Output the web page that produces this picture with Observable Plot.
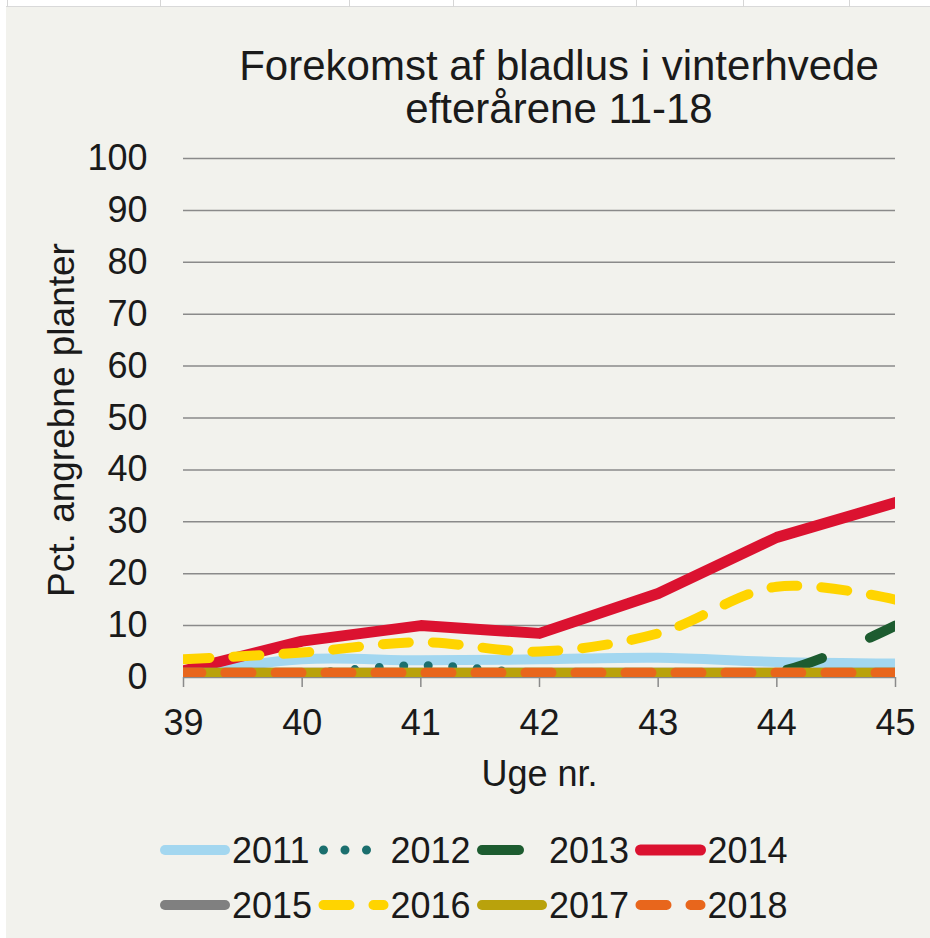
<!DOCTYPE html>
<html><head><meta charset="utf-8">
<script src="https://cdn.jsdelivr.net/npm/d3@7"></script>
<script src="https://cdn.jsdelivr.net/npm/@observablehq/plot@0.6"></script>
<style>
body{margin:0;background:#fff;}
#wrap{position:relative;width:930px;height:938px;overflow:hidden;background:#fff;font-family:"Liberation Sans",Arial,sans-serif;color:#1a1a1a;}
#panel{position:absolute;left:6px;top:7px;right:0;bottom:0;background:#f2f2ed;}
.vl{position:absolute;top:0;height:7px;width:1px;background:#d6d6d6;}
#topline{position:absolute;left:6px;right:0;top:6px;height:1px;background:#d9d9d9;}
#title{position:absolute;left:559px;top:44px;transform:translateX(-50%);text-align:center;white-space:nowrap;font-size:42px;line-height:43px;color:#1a1a1a;}
#chart{position:absolute;left:0;top:140px;}
#legend{position:absolute;left:0;top:810px;}
</style></head><body>
<div id="wrap">
  <div id="panel"></div>
  <div id="topline"></div>
  <div id="title">Forekomst af bladlus i vinterhvede<br>efterårene 11-18</div>
  <div id="chart"></div>
  <div id="legend"></div>
</div>
<script>
// ---- data ----
const weeks = [39, 40, 41, 42, 43, 44, 45];
const years = ["2011", "2012", "2013", "2014", "2015", "2016", "2017", "2018"];
const v2011 = [0.5, 3.5, 3.3, 3.5, 3.8, 3.0, 2.7];
const v2012 = [0.8, 0.8, 2.3, 0.8, 0.8, 0.8, 0.8];
const v2013 = [0.8, 0.8, 0.8, 0.8, 0.8, 1.0, 10.0];
const v2014 = [1.3, 7.0, 10.0, 8.5, 16.2, 27.0, 33.7];
const v2015 = [0.9, 0.9, 0.9, 0.9, 0.9, 0.9, 0.9];
const v2016 = [3.5, 4.8, 6.8, 5.0, 8.5, 17.5, 15.0];
const v2017 = [0.9, 0.9, 0.9, 0.9, 0.9, 0.9, 0.9];
const v2018 = [0.9, 0.9, 0.9, 0.9, 0.9, 0.9, 0.9];
const yTicks = [0, 10, 20, 30, 40, 50, 60, 70, 80, 90, 100];
const yLabel = "Pct. angrebne planter";
const xLabel = "Uge nr.";

// ---- styles ----
const styles = {
  "2011": {color: "#a3d7f0", w: 10, dash: null, off: 0, curve: "catmull-rom"},
  "2012": {color: "#1b6f6e", w: 9, dash: "0,24.5", off: 0, ldash: "0,21.5", curve: "catmull-rom"},
  "2013": {color: "#1d5c30", w: 10, dash: "37,52", off: 19, loff: 0, curve: "catmull-rom"},
  "2014": {color: "#db1230", w: 11, dash: null, off: 0, curve: "linear"},
  "2015": {color: "#808080", w: 10, dash: null, off: 0, curve: "catmull-rom"},
  "2016": {color: "#ffd400", w: 10, dash: "26,24", off: 0, curve: "catmull-rom"},
  "2017": {color: "#b9a20c", w: 10, dash: null, off: 0, curve: "catmull-rom"},
  "2018": {color: "#e8661c", w: 10, dash: "26,24", off: 8, loff: 0, curve: "catmull-rom"}
};
const valuesByYear = {"2011": v2011, "2012": v2012, "2013": v2013, "2014": v2014,
  "2015": v2015, "2016": v2016, "2017": v2017, "2018": v2018};

const rows = years.flatMap(y => weeks.map((w, i) => ({year: y, week: w, value: valuesByYear[y][i]})));

const plot = Plot.plot({
  width: 930,
  height: 660,
  marginLeft: 183,
  marginRight: 35,
  marginTop: 18,
  marginBottom: 123,
  x: {domain: [39, 45]},
  y: {domain: [0, 100]},
  style: {background: "transparent", fontFamily: "'Liberation Sans', Arial, sans-serif", fontSize: "36px", color: "#1a1a1a", overflow: "visible"},
  marks: [
    Plot.gridY(yTicks.filter(t => t > 0), {stroke: "#8a8a8a", strokeOpacity: 1, strokeWidth: 1.5}),
    Plot.ruleY([0], {stroke: "#8a8a8a", strokeWidth: 1.5}),
    Plot.axisY(yTicks, {tickSize: 0, tickPadding: 36, label: null, fontSize: 36}),
    Plot.axisX(weeks, {tickSize: 10, tickPadding: 22, label: null, stroke: "#8a8a8a", strokeWidth: 1.5, fontSize: 36, tickFormat: d => String(d)}),
    ...years.map(y => {
      const s = styles[y];
      return Plot.line(rows.filter(d => d.year === y), {
        x: "week", y: "value", stroke: s.color, strokeWidth: s.w,
        strokeDasharray: s.dash || undefined, strokeDashoffset: s.off,
        strokeLinecap: "round", strokeLinejoin: "round",
        curve: s.curve, clip: true
      });
    }),
    Plot.text([yLabel], {frameAnchor: "left", textAnchor: "middle", rotate: -90, dx: -121, dy: 2, fontSize: 37, fill: "#1a1a1a"}),
    Plot.text([xLabel], {frameAnchor: "bottom", textAnchor: "middle", dy: 108, fontSize: 36, fill: "#1a1a1a"})
  ]
});
document.getElementById("chart").appendChild(plot);

// top strip table lines
const wrap = document.getElementById("wrap");
[7, 160, 349, 453, 636, 743, 849].forEach(x => {
  const d = document.createElement("div"); d.className = "vl"; d.style.left = x + "px"; wrap.appendChild(d);
});

// ---- legend ----
const lsvg = d3.create("svg").attr("width", 930).attr("height", 128)
  .style("font-family", "'Liberation Sans', Arial, sans-serif").style("font-size", "36px");
years.forEach((y, i) => {
  const s = styles[y];
  const col = i % 4, row = Math.floor(i / 4);
  const x0 = 160 + col * 158.5;
  const cy = 40 + row * 55;
  const x2 = y === "2012" ? x0 + 52 : x0 + 65;
  lsvg.append("line").attr("x1", x0 + 5).attr("x2", x2).attr("y1", cy).attr("y2", cy)
    .attr("stroke", s.color).attr("stroke-width", s.w).attr("stroke-linecap", "round")
    .attr("stroke-dasharray", s.ldash || s.dash || null)
    .attr("stroke-dashoffset", s.loff !== undefined ? s.loff : s.off);
  lsvg.append("text").attr("x", x0 + 72).attr("y", cy).attr("dy", "0.35em")
    .attr("fill", "#1a1a1a").text(y);
});
document.getElementById("legend").appendChild(lsvg.node());
</script>
</body></html>
